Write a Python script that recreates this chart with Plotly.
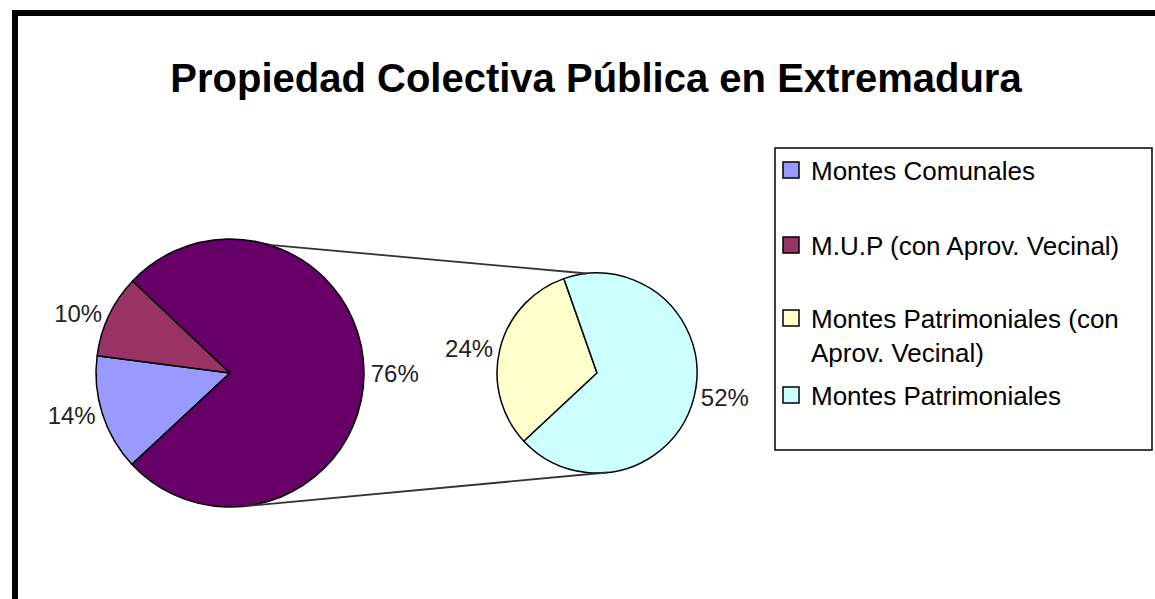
import math
import plotly.graph_objects as go

# ---------------- data ----------------
main_labels = ["Montes Comunales", "M.U.P (con Aprov. Vecinal)", "Montes Patrimoniales (total)"]
main_values = [14, 10, 76]
sec_labels = ["Montes Patrimoniales (con Aprov. Vecinal)", "Montes Patrimoniales"]
sec_values = [24, 52]
legend_labels = ["Montes Comunales", "M.U.P (con Aprov. Vecinal)",
                 "Montes Patrimoniales (con<br>Aprov. Vecinal)", "Montes Patrimoniales"]
title_text = "Propiedad Colectiva Pública en Extremadura"

# ---------------- style ----------------
W, H = 1155, 599
FONT = "Liberation Sans, Arial, sans-serif"
main_colors = ["#9999FF", "#993366", "#660066"]
sec_colors = ["#FFFFCC", "#CCFFFF"]
legend_colors = ["#9999FF", "#993366", "#FFFFCC", "#CCFFFF"]
MAIN_C, MAIN_R = (230, 373), 134
SEC_C, SEC_R = (597, 373), 100


def px_x(x):
    return x / W


def px_y(y):
    return 1 - y / H


def dom(c, r):
    return dict(x=[px_x(c[0] - r), px_x(c[0] + r)], y=[px_y(c[1] + r), px_y(c[1] - r)])


fig = go.Figure()

fig.add_trace(go.Pie(
    labels=main_labels, values=main_values, sort=False, direction="clockwise",
    rotation=227, domain=dom(MAIN_C, MAIN_R),
    marker=dict(colors=main_colors, line=dict(color="#000000", width=1.5)),
    texttemplate="%{value}%", textposition="outside",
    outsidetextfont=dict(family=FONT, size=24, color="#222222"),
    showlegend=False, hoverinfo="label+value",
))
fig.add_trace(go.Pie(
    labels=sec_labels, values=sec_values, sort=False, direction="clockwise",
    rotation=227, domain=dom(SEC_C, SEC_R),
    marker=dict(colors=sec_colors, line=dict(color="#000000", width=1.5)),
    texttemplate="%{value}%", textposition="outside",
    outsidetextfont=dict(family=FONT, size=24, color="#222222"),
    showlegend=False, hoverinfo="label+value",
))

# legend entries (separate legends for Excel-like spacing)
legend_centers_px = [170, 245, 335, 395]
legend_names = ["legend", "legend2", "legend3", "legend4"]
for lab, col, ln in zip(legend_labels, legend_colors, legend_names):
    fig.add_trace(go.Scatter(
        x=[None], y=[None], mode="markers", name=lab, legend=ln,
        marker=dict(symbol="square", size=16, color=col, line=dict(color="#000000", width=1.5)),
    ))

layout_legends = {}
for ln, cy in zip(legend_names, legend_centers_px):
    layout_legends[ln] = dict(
        x=px_x(771), xanchor="left", y=px_y(cy), yanchor="middle",
        bgcolor="rgba(0,0,0,0)", borderwidth=0, valign="top",
        font=dict(family=FONT, size=26, color="#000000"),
    )

# connector lines between the pies
conn = [(73, 95.7), (-84.5, -84.3)]
shapes = []
for a_main, a_sec in conn:
    x0 = MAIN_C[0] + MAIN_R * math.cos(math.radians(a_main))
    y0 = MAIN_C[1] - MAIN_R * math.sin(math.radians(a_main))
    x1 = SEC_C[0] + SEC_R * math.cos(math.radians(a_sec))
    y1 = SEC_C[1] - SEC_R * math.sin(math.radians(a_sec))
    shapes.append(dict(type="line", xref="paper", yref="paper",
                       x0=px_x(x0), y0=px_y(y0), x1=px_x(x1), y1=px_y(y1),
                       line=dict(color="#333333", width=1.8)))

# legend box
shapes.append(dict(type="rect", xref="paper", yref="paper",
                   x0=px_x(775), x1=px_x(1152), y0=px_y(450), y1=px_y(148),
                   line=dict(color="#000000", width=1.5), fillcolor="rgba(0,0,0,0)"))
# outer frame (top and left edges visible)
shapes.append(dict(type="line", xref="paper", yref="paper",
                   x0=px_x(12), x1=1.0, y0=px_y(13), y1=px_y(13),
                   line=dict(color="#000000", width=6)))
shapes.append(dict(type="line", xref="paper", yref="paper",
                   x0=px_x(15), x1=px_x(15), y0=px_y(10), y1=0.0,
                   line=dict(color="#000000", width=6)))

fig.update_layout(
    width=W, height=H, autosize=False,
    margin=dict(l=0, r=0, t=0, b=0),
    paper_bgcolor="#FFFFFF", plot_bgcolor="#FFFFFF",
    title=dict(text=title_text, x=px_x(596), xanchor="center", y=px_y(78), yanchor="middle",
               font=dict(family=FONT, size=40, color="#000000", weight="bold")),
    xaxis=dict(visible=False), yaxis=dict(visible=False),
    shapes=shapes,
    **layout_legends,
)

fig.write_html("out.html", config={"displayModeBar": False},
               post_script="document.body.style.margin='0';")
